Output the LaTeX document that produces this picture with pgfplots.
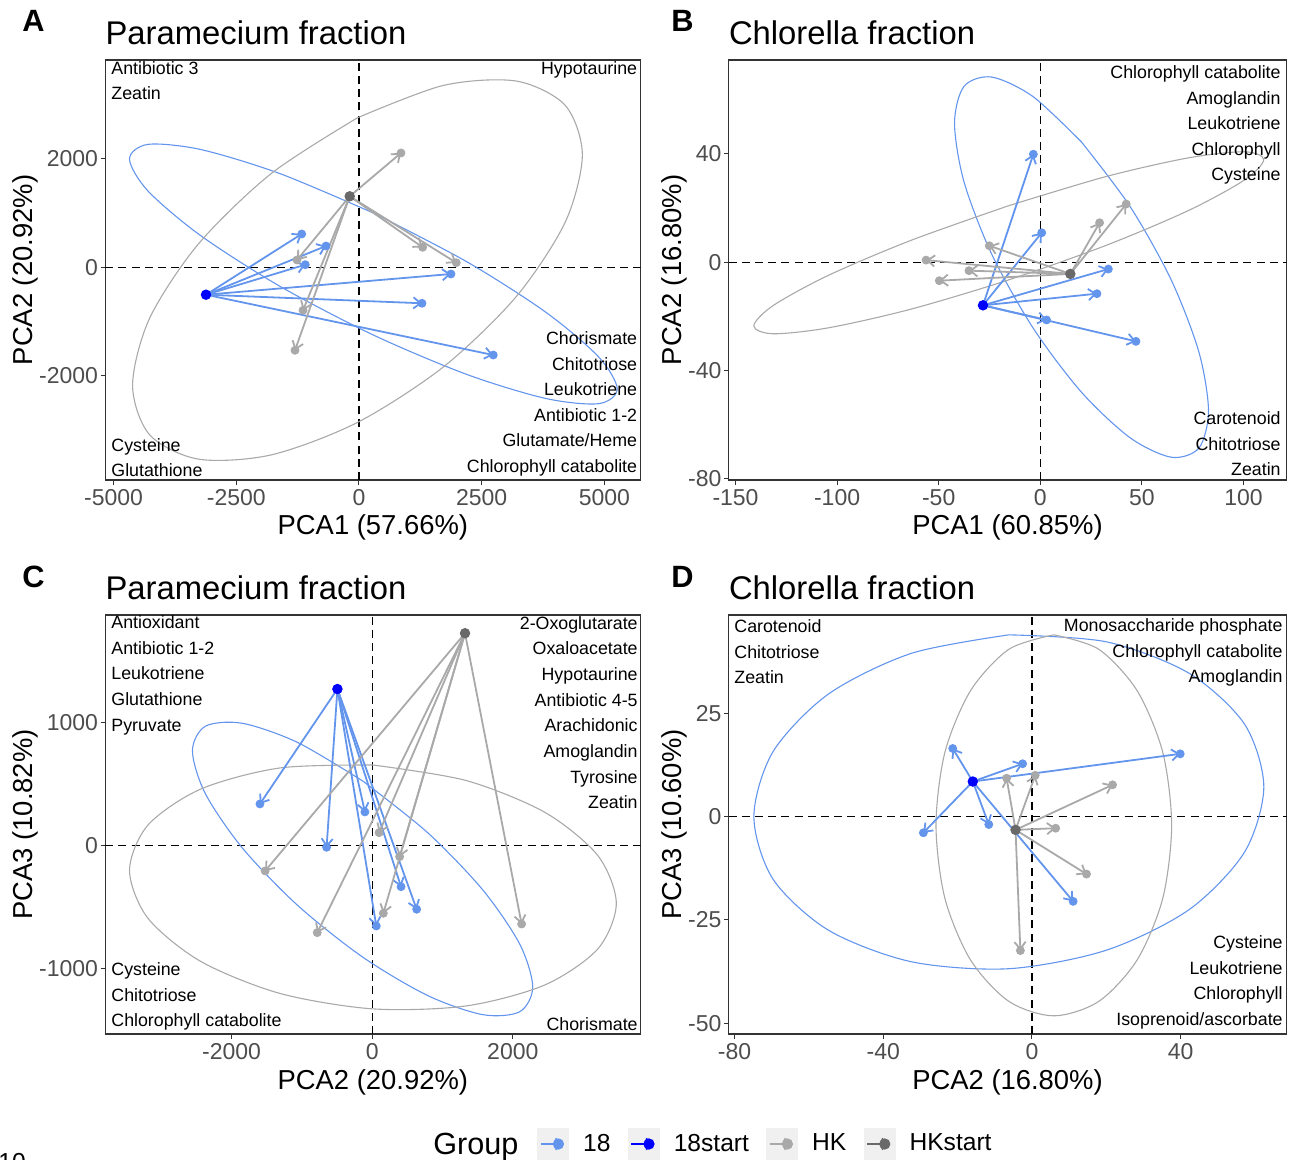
\documentclass[border=0pt]{standalone}
\usepackage{fontspec}
\setmainfont{Liberation Sans}
\usepackage{pgfplots}
\pgfplotsset{compat=1.18}
\usetikzlibrary{arrows.meta}
\definecolor{c18}{RGB}{100,149,237}
\definecolor{c18s}{RGB}{0,0,255}
\definecolor{cHK}{RGB}{169,169,169}
\definecolor{cHKs}{RGB}{105,105,105}
\definecolor{bord}{RGB}{51,51,51}
\definecolor{tickc}{RGB}{77,77,77}
\newcommand{\annfont}{\fontsize{8.9}{10}\selectfont}
\pgfplotsset{
  panel/.style={
    scale only axis, anchor=north west, clip=true,
    axis line style={bord, line width=0.6pt},
    xtick pos=bottom, ytick pos=left, tick align=outside,
    major tick length=2.3pt,
    every tick/.style={bord, line width=0.5pt},
    tick label style={font=\fontsize{11.5}{13}\selectfont, text=tickc},
    xticklabel style={anchor=base, yshift=-10.25pt},
    yticklabel style={anchor=east, inner sep=0pt, xshift=-1.1pt},
    label style={font=\fontsize{13.7}{16}\selectfont},
  },
  zero/.style={black, line width=0.65pt, dash pattern=on 4pt off 2.6pt, forget plot},
  ell/.style={line width=0.55pt, smooth, forget plot},
  arw/.style={line width=0.9pt, -{Straight Barb[length=3.6pt,width=5.6pt]}, forget plot},
  pts/.style={only marks, mark=*, mark size=2pt, forget plot},
  spt/.style={only marks, mark=*, mark size=2.4pt, forget plot},
  grpkey/.style={legend image code/.code={
     \fill[black!6] (0pt,-8pt) rectangle (15.5pt,8pt);
     \draw[line width=0.9pt, -{Straight Barb[length=3pt,width=5.5pt]}] (1.5pt,0pt) -- (12.5pt,0pt);
     \fill (10.3pt,0pt) circle[radius=2.6pt];
  }},
}
\newcommand{\arr}[5]{\addplot[#1, arw] coordinates {(#2,#3) (#4,#5)};}
\newcommand{\tl}[3]{\node[anchor=base west,inner sep=0pt,font=\annfont] at ({#1*0.5pt},{-#2*0.5pt}) {#3};}
\newcommand{\tr}[3]{\node[anchor=base east,inner sep=0pt,font=\annfont] at ({#1*0.5pt},{-#2*0.5pt}) {#3};}
\begin{document}
\begin{tikzpicture}
\path[use as bounding box] (0pt,0pt) rectangle (647pt,-580pt);

% ---------------- Panel A
\begin{axis}[panel, at={(52.6pt,-30pt)}, width=267.65pt, height=210pt,
  xmin=-5171, xmax=5736, ymin=-3926, ymax=3826,
  xtick={-5000,-2500,0,2500,5000}, xticklabels={-5000,-2500,0,2500,5000},
  ytick={-2000,0,2000}, yticklabels={-2000,0,2000},
  xlabel={PCA1 (57.66\%)}, ylabel={PCA2 (20.92\%)},
  xlabel style={at={(axis description cs:0.5,-0.1298)}, anchor=base},
  ylabel style={at={(axis description cs:-0.1358,0.5)}, anchor=base}]
\addplot[zero] coordinates {(-5171,0) (5736,0)};
\addplot[zero] coordinates {(0,-3926) (0,3826)};
\addplot[ell, c18] coordinates {(293,1002) (-1610,1729) (-3220,2173) (-4298,2269) (-4676,1999) (-4298,1407) (-3220,581) (-1610,-351) (293,-1250) (2196,-1977) (3806,-2421) (4884,-2517) (5262,-2247) (4884,-1655) (3806,-829) (2196,103) (293,1002)};
\addplot[ell, cHK] coordinates {(-31,2759) (-1786,1732) (-3270,433) (-4265,-938) (-4613,-2176) (-4265,-3092) (-3270,-3541) (-1786,-3462) (-31,-2863) (1724,-1836) (3208,-537) (4203,834) (4551,2072) (4203,2988) (3208,3437) (1724,3358) (-31,2759)};
\arr{c18}{-3117}{-506}{-1167}{615}
\arr{c18}{-3117}{-506}{-672}{393}
\arr{c18}{-3117}{-506}{-1094}{48}
\arr{c18}{-3117}{-506}{1874}{-124}
\arr{c18}{-3117}{-506}{1284}{-664}
\arr{c18}{-3117}{-506}{2736}{-1619}
\arr{cHK}{-189}{1310}{856}{2110}
\arr{cHK}{-189}{1310}{1297}{369}
\arr{cHK}{-189}{1310}{1982}{85}
\arr{cHK}{-189}{1310}{-1263}{135}
\arr{cHK}{-189}{1310}{-1141}{-794}
\arr{cHK}{-189}{1310}{-1304}{-1532}
\addplot[pts, c18] coordinates {(-1167,615) (-672,393) (-1094,48) (1874,-124) (1284,-664) (2736,-1619)};
\addplot[pts, cHK] coordinates {(856,2110) (1297,369) (1982,85) (-1263,135) (-1141,-794) (-1304,-1532)};
\addplot[spt, c18s] coordinates {(-3117,-506)};
\addplot[spt, cHKs] coordinates {(-189,1310)};
\end{axis}

% ---------------- Panel B
\begin{axis}[panel, at={(364.3pt,-30pt)}, width=278.95pt, height=210pt,
  xmin=-153.4, xmax=121.2, ymin=-80.4, ymax=74.7,
  xtick={-150,-100,-50,0,50,100}, xticklabels={-150,-100,-50,0,50,100},
  ytick={-80,-40,0,40}, yticklabels={-80,-40,0,40},
  xlabel={PCA1 (60.85\%)}, ylabel={PCA2 (16.80\%)},
  xlabel style={at={(axis description cs:0.5,-0.1298)}, anchor=base},
  ylabel style={at={(axis description cs:-0.0843,0.5)}, anchor=base}]
\addplot[zero] coordinates {(-153.4,0) (121.2,0)};
\addplot[zero] coordinates {(0,-80.4) (0,74.7)};
\addplot[ell, c18] coordinates {(20.3,44.4) (-3.6,61.2) (-23.9,68.4) (-37.5,65.0) (-42.2,51.3) (-37.5,29.6) (-23.9,3.0) (-3.6,-24.2) (20.3,-48.0) (44.2,-64.8) (64.5,-72.0) (78.1,-68.6) (82.8,-54.9) (78.1,-33.2) (64.5,-6.6) (44.2,20.6) (20.3,44.4)};
\addplot[ell, cHK] coordinates {(-15.5,20.9) (-63.6,8.1) (-104.2,-4.8) (-131.5,-16.0) (-141.0,-23.5) (-131.5,-26.4) (-104.2,-24.2) (-63.6,-17.3) (-15.5,-6.5) (32.6,6.3) (73.2,19.2) (100.5,30.4) (110.0,37.9) (100.5,40.8) (73.2,38.6) (32.6,31.7) (-15.5,20.9)};
\arr{c18}{-28.2}{-15.9}{-3.4}{39.9}
\arr{c18}{-28.2}{-15.9}{0.7}{10.9}
\arr{c18}{-28.2}{-15.9}{33.5}{-2.5}
\arr{c18}{-28.2}{-15.9}{27.9}{-11.6}
\arr{c18}{-28.2}{-15.9}{3.1}{-21.3}
\arr{c18}{-28.2}{-15.9}{47.1}{-29.2}
\arr{cHK}{14.8}{-4.3}{42.3}{21.5}
\arr{cHK}{14.8}{-4.3}{29.2}{14.6}
\arr{cHK}{14.8}{-4.3}{-25.1}{6.1}
\arr{cHK}{14.8}{-4.3}{-56.2}{0.8}
\arr{cHK}{14.8}{-4.3}{-35.1}{-3.1}
\arr{cHK}{14.8}{-4.3}{-49.7}{-6.8}
\addplot[pts, c18] coordinates {(-3.4,39.9) (0.7,10.9) (33.5,-2.5) (27.9,-11.6) (3.1,-21.3) (47.1,-29.2)};
\addplot[pts, cHK] coordinates {(42.3,21.5) (29.2,14.6) (-25.1,6.1) (-56.2,0.8) (-35.1,-3.1) (-49.7,-6.8)};
\addplot[spt, c18s] coordinates {(-28.2,-15.9)};
\addplot[spt, cHKs] coordinates {(14.8,-4.3)};
\end{axis}

% ---------------- Panel C
\begin{axis}[panel, at={(52.6pt,-307.5pt)}, width=267.65pt, height=209.5pt,
  xmin=-3798, xmax=3816, ymin=-1529, ymax=1873,
  xtick={-2000,0,2000}, xticklabels={-2000,0,2000},
  ytick={-1000,0,1000}, yticklabels={-1000,0,1000},
  xlabel={PCA2 (20.92\%)}, ylabel={PCA3 (10.82\%)},
  xlabel style={at={(axis description cs:0.5,-0.1325)}, anchor=base},
  ylabel style={at={(axis description cs:-0.1358,0.5)}, anchor=base}]
\addplot[zero] coordinates {(-3798,0) (3816,0)};
\addplot[zero] coordinates {(0,-1529) (0,1873)};
\addplot[ell, c18] coordinates {(-137,526) (-1064,839) (-1848,994) (-2373,970) (-2557,769) (-2373,422) (-1848,-18) (-1064,-483) (-137,-904) (790,-1217) (1574,-1372) (2099,-1348) (2283,-1147) (2099,-800) (1574,-360) (790,105) (-137,526)};
\addplot[ell, cHK] coordinates {(10,655) (-1316,631) (-2438,460) (-3189,168) (-3452,-201) (-3189,-590) (-2438,-940) (-1316,-1199) (10,-1325) (1336,-1301) (2458,-1130) (3209,-838) (3472,-469) (3209,-80) (2458,270) (1336,529) (10,655)};
\arr{c18}{-495}{1272}{-1597}{339}
\arr{c18}{-495}{1272}{-649}{-13}
\arr{c18}{-495}{1272}{-104}{274}
\arr{c18}{-495}{1272}{410}{-333}
\arr{c18}{-495}{1272}{632}{-516}
\arr{c18}{-495}{1272}{58}{-652}
\arr{cHK}{1320}{1725}{-1523}{-205}
\arr{cHK}{1320}{1725}{-782}{-706}
\arr{cHK}{1320}{1725}{98}{106}
\arr{cHK}{1320}{1725}{390}{-89}
\arr{cHK}{1320}{1725}{158}{-549}
\arr{cHK}{1320}{1725}{2125}{-636}
\addplot[pts, c18] coordinates {(-1597,339) (-649,-13) (-104,274) (410,-333) (632,-516) (58,-652)};
\addplot[pts, cHK] coordinates {(-1523,-205) (-782,-706) (98,106) (390,-89) (158,-549) (2125,-636)};
\addplot[spt, c18s] coordinates {(-495,1272)};
\addplot[spt, cHKs] coordinates {(1320,1725)};
\end{axis}

% ---------------- Panel D
\begin{axis}[panel, at={(364.3pt,-307.5pt)}, width=278.95pt, height=209.5pt,
  xmin=-81.6, xmax=68.5, ymin=-52.6, ymax=48.8,
  xtick={-80,-40,0,40}, xticklabels={-80,-40,0,40},
  ytick={-50,-25,0,25}, yticklabels={-50,-25,0,25},
  xlabel={PCA2 (16.80\%)}, ylabel={PCA3 (10.60\%)},
  xlabel style={at={(axis description cs:0.5,-0.1325)}, anchor=base},
  ylabel style={at={(axis description cs:-0.0843,0.5)}, anchor=base}]
\addplot[zero] coordinates {(-81.6,0) (68.5,0)};
\addplot[zero] coordinates {(0,-52.6) (0,48.8)};
\addplot[ell, c18] coordinates {(-6.2,44.0) (-32.5,39.5) (-54.7,29.7) (-69.6,15.8) (-74.8,0) (-69.6,-15.2) (-54.7,-27.5) (-32.5,-35.1) (-6.2,-36.8) (20.1,-32.3) (42.3,-22.5) (57.2,-8.6) (62.4,7.2) (57.2,22.4) (42.3,34.7) (20.1,42.3) (-6.2,44.0)};
\addplot[ell, cHK] coordinates {(5.9,44.0) (-6.2,40.5) (-16.5,30.5) (-23.4,15.6) (-25.8,-2.1) (-23.4,-19.8) (-16.5,-34.7) (-6.2,-44.7) (5.9,-48.2) (18.0,-44.7) (28.3,-34.7) (35.2,-19.8) (37.6,-2.1) (35.2,15.6) (28.3,30.5) (18.0,40.5) (5.9,44.0)};
\arr{c18}{-15.9}{8.5}{-21.3}{16.5}
\arr{c18}{-15.9}{8.5}{-2.5}{12.8}
\arr{c18}{-15.9}{8.5}{39.9}{15.2}
\arr{c18}{-15.9}{8.5}{-29.2}{-3.9}
\arr{c18}{-15.9}{8.5}{-11.6}{-1.9}
\arr{c18}{-15.9}{8.5}{11.1}{-20.5}
\arr{cHK}{-4.4}{-3.2}{-6.8}{9.3}
\arr{cHK}{-4.4}{-3.2}{0.9}{10.0}
\arr{cHK}{-4.4}{-3.2}{21.7}{7.7}
\arr{cHK}{-4.4}{-3.2}{6.4}{-2.8}
\arr{cHK}{-4.4}{-3.2}{14.7}{-13.9}
\arr{cHK}{-4.4}{-3.2}{-3.1}{-32.4}
\addplot[pts, c18] coordinates {(-21.3,16.5) (-2.5,12.8) (39.9,15.2) (-29.2,-3.9) (-11.6,-1.9) (11.1,-20.5)};
\addplot[pts, cHK] coordinates {(-6.8,9.3) (0.9,10.0) (21.7,7.7) (6.4,-2.8) (14.7,-13.9) (-3.1,-32.4)};
\addplot[spt, c18s] coordinates {(-15.9,8.5)};
\addplot[spt, cHKs] coordinates {(-4.4,-3.2)};
\end{axis}

% ---------------- Legend
\begin{axis}[at={(0pt,0pt)}, anchor=north west, scale only axis, width=647pt, height=580pt,
  hide axis, xmin=0, xmax=1, ymin=0, ymax=1,
  legend style={at={(axis description cs:0.415,0.01379)}, anchor=west, draw=none, fill=none,
    legend columns=4, font=\fontsize{12.3}{14}\selectfont, inner sep=0pt,
    /tikz/every odd column/.append style={column sep=5pt},
    /tikz/every even column/.append style={column sep=6.7pt}},
  legend cell align=left]
\addlegendimage{grpkey, c18}\addlegendentry{18}
\addlegendimage{grpkey, c18s}\addlegendentry{18start}
\addlegendimage{grpkey, cHK}\addlegendentry{HK}
\addlegendimage{grpkey, cHKs}\addlegendentry{HKstart}
\end{axis}

\node[anchor=base west, inner sep=0pt, font=\fontsize{15.3}{18}\selectfont] at (216.5pt,-577.4pt) {Group};
\node[anchor=north west, inner sep=0pt, font=\fontsize{12.3}{14}\selectfont] at (-1pt,-576.5pt) {10};

% titles and panel letters
\node[anchor=base west, inner sep=0pt, font=\fontsize{15.4}{18}\selectfont\bfseries] at (11pt,-16pt) {A};
\node[anchor=base west, inner sep=0pt, font=\fontsize{15.4}{18}\selectfont\bfseries] at (335.5pt,-16pt) {B};
\node[anchor=base west, inner sep=0pt, font=\fontsize{15.4}{18}\selectfont\bfseries] at (11pt,-293.5pt) {C};
\node[anchor=base west, inner sep=0pt, font=\fontsize{15.4}{18}\selectfont\bfseries] at (335.5pt,-293.5pt) {D};
\node[anchor=base west, inner sep=0pt, font=\fontsize{16.4}{19}\selectfont] at (52.6pt,-22.5pt) {Paramecium fraction};
\node[anchor=base west, inner sep=0pt, font=\fontsize{16.4}{19}\selectfont] at (364.3pt,-22.5pt) {Chlorella fraction};
\node[anchor=base west, inner sep=0pt, font=\fontsize{16.4}{19}\selectfont] at (52.6pt,-299.5pt) {Paramecium fraction};
\node[anchor=base west, inner sep=0pt, font=\fontsize{16.4}{19}\selectfont] at (364.3pt,-299.5pt) {Chlorella fraction};

% annotations panel A
\tl{111}{74.3}{Antibiotic 3}
\tl{111}{100}{Zeatin}
\tr{637.5}{74.3}{Hypotaurine}
\tl{111}{451}{Cysteine}
\tl{111}{476.7}{Glutathione}
\tr{637.5}{344.5}{Chorismate}
\tr{637.5}{370.1}{Chitotriose}
\tr{637.5}{395.7}{Leukotriene}
\tr{637.5}{421.3}{Antibiotic 1-2}
\tr{637.5}{446.9}{Glutamate/Heme}
\tr{637.5}{472.5}{Chlorophyll catabolite}
% panel B
\tr{1281}{78.5}{Chlorophyll catabolite}
\tr{1281}{104.1}{Amoglandin}
\tr{1281}{129.7}{Leukotriene}
\tr{1281}{155.3}{Chlorophyll}
\tr{1281}{180.9}{Cysteine}
\tr{1281}{424.3}{Carotenoid}
\tr{1281}{450}{Chitotriose}
\tr{1281}{475.5}{Zeatin}
% panel C
\tl{111}{628.7}{Antioxidant}
\tl{111}{654.3}{Antibiotic 1-2}
\tl{111}{679.9}{Leukotriene}
\tl{111}{705.5}{Glutathione}
\tl{111}{731.1}{Pyruvate}
\tr{638}{629}{2-Oxoglutarate}
\tr{638}{654.7}{Oxaloacetate}
\tr{638}{680.4}{Hypotaurine}
\tr{638}{706.1}{Antibiotic 4-5}
\tr{638}{731.8}{Arachidonic}
\tr{638}{757.5}{Amoglandin}
\tr{638}{783.2}{Tyrosine}
\tr{638}{808.9}{Zeatin}
\tl{111}{975.5}{Cysteine}
\tl{111}{1001}{Chitotriose}
\tl{111}{1026.5}{Chlorophyll catabolite}
\tr{638}{1030.5}{Chorismate}
% panel D
\tl{734}{632.5}{Carotenoid}
\tl{734}{658}{Chitotriose}
\tl{734}{683.5}{Zeatin}
\tr{1283}{631.5}{Monosaccharide phosphate}
\tr{1283}{657}{Chlorophyll catabolite}
\tr{1283}{682.5}{Amoglandin}
\tr{1283}{948.5}{Cysteine}
\tr{1283}{974}{Leukotriene}
\tr{1283}{999.5}{Chlorophyll}
\tr{1283}{1025}{Isoprenoid/ascorbate}
\end{tikzpicture}
\end{document}
